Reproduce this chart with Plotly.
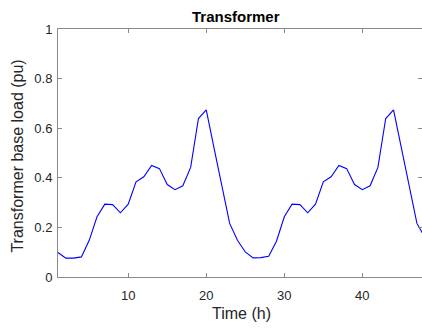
import plotly.graph_objects as go

hours = list(range(1, 49))
load_pu = [
    0.099, 0.076, 0.076, 0.081, 0.148, 0.243, 0.294, 0.292, 0.259, 0.294,
    0.384, 0.404, 0.450, 0.437, 0.373, 0.352, 0.368, 0.442, 0.639, 0.674,
    0.520, 0.370, 0.216, 0.148,
    0.101, 0.077, 0.078, 0.084, 0.144, 0.243, 0.294, 0.292, 0.259, 0.294,
    0.384, 0.404, 0.450, 0.437, 0.373, 0.352, 0.368, 0.442, 0.639, 0.674,
    0.520, 0.370, 0.216, 0.160,
]
x_ticks = [10, 20, 30, 40]
y_ticks = [0, 0.2, 0.4, 0.6, 0.8, 1]
y_tick_text = ["0", "0.2", "0.4", "0.6", "0.8", "1"]

font_family = "Liberation Sans, Arial, Helvetica, sans-serif"
axis_color = "#8a8a8a"
text_color = "#262626"

fig = go.Figure()
fig.add_trace(go.Scatter(
    x=hours, y=load_pu, mode="lines",
    line=dict(color="#0000ff", width=1.1),
    showlegend=False, hoverinfo="skip",
))

fig.update_layout(
    width=422, height=329,
    margin=dict(l=58, r=0, t=29, b=52),
    paper_bgcolor="white", plot_bgcolor="white",
    font=dict(family=font_family, color=text_color, size=13),
    annotations=[
        dict(text="<b>Transformer</b>", x=0.489, y=1.052, xref="paper", yref="paper",
             xanchor="center", yanchor="middle", showarrow=False,
             font=dict(size=15, color="#000000")),
        dict(text="Time (h)", x=0.503, y=-0.149, xref="paper", yref="paper",
             xanchor="center", yanchor="middle", showarrow=False,
             font=dict(size=16, color=text_color)),
        dict(text="Transformer base load (pu)", x=-0.111, y=0.488, xref="paper", yref="paper",
             xanchor="center", yanchor="middle", showarrow=False, textangle=-90,
             font=dict(size=16, color=text_color)),
    ],
)
fig.update_xaxes(
    range=[1, 47.65], tickvals=x_ticks, ticks="inside", ticklen=4,
    tickcolor=axis_color, showline=True, linecolor=axis_color, linewidth=1,
    mirror="ticks", showgrid=False, zeroline=False, automargin=False,
    tickfont=dict(size=13, color=text_color), ticklabelstandoff=6,
)
fig.update_yaxes(
    range=[0, 1], tickvals=y_ticks, ticktext=y_tick_text, ticks="inside",
    ticklen=4, tickcolor=axis_color, showline=True, linecolor=axis_color,
    linewidth=1, mirror="ticks", showgrid=False, zeroline=False, automargin=False,
    tickfont=dict(size=13, color=text_color), ticklabelstandoff=2,
)

fig.write_html(
    "out.html",
    config={"displayModeBar": False, "staticPlot": True},
    post_script="document.body.style.margin='0';document.body.style.overflow='hidden';",
)
